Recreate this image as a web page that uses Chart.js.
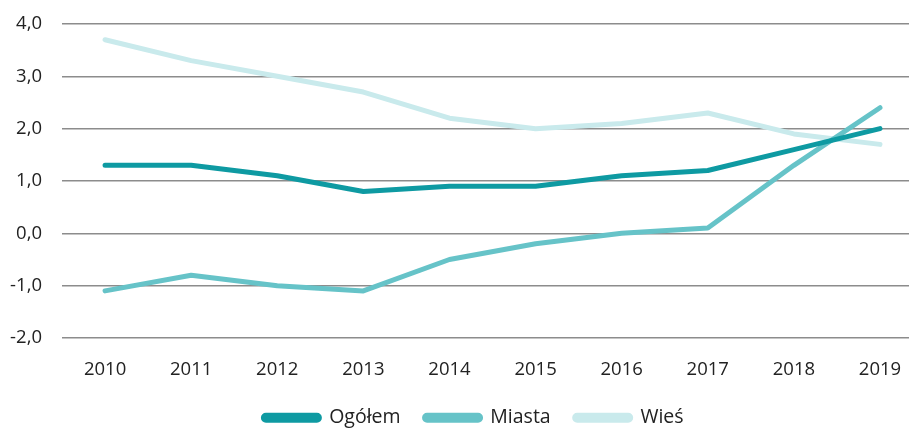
<!DOCTYPE html>
<html>
<head>
<meta charset="utf-8">
<script src="https://cdn.jsdelivr.net/npm/chart.js@4"></script>
<style>
  html, body { margin: 0; padding: 0; background: #fff; overflow: hidden; }
</style>
</head>
<body>
<canvas id="wykres" width="909" height="428"></canvas>
<script>
const LATA = [2010, 2011, 2012, 2013, 2014, 2015, 2016, 2017, 2018, 2019];
const OGOLEM = [1.3, 1.3, 1.1, 0.8, 0.9, 0.9, 1.1, 1.2, 1.6, 2.0];
const MIASTA = [-1.1, -0.8, -1.0, -1.1, -0.5, -0.2, 0.0, 0.1, 1.3, 2.4];
const WIES = [3.7, 3.3, 3.0, 2.7, 2.2, 2.0, 2.1, 2.3, 1.9, 1.7];

function seria(label, vals, color) {
  return {
    label: label,
    data: LATA.map((r, i) => ({ x: r, y: vals[i] })),
    borderColor: color,
    backgroundColor: color,
    borderWidth: 5,
    borderCapStyle: "round",
    borderJoinStyle: "round",
    pointRadius: 0,
    tension: 0,
  };
}

function frmt(v) {
  return v.toFixed(1).replace(".", ",");
}

// legenda przy samym dole i troche w prawo (jak w oryginale)
const wysLegendy = {
  id: "wysLegendy",
  beforeInit(chart) {
    const fit = chart.legend.fit;
    chart.legend.fit = function () {
      fit.call(this);
      this.height = 44;
    };
  },
  afterLayout(chart) {
    chart.legend.left += 19;
    chart.legend.right += 19;
  },
};

const ctx = document.getElementById("wykres");
new Chart(ctx, {
  type: "line",
  data: {
    datasets: [
      seria("Ogółem", OGOLEM, "#0e9aa2"),
      seria("Miasta", MIASTA, "#66c3c8"),
      seria("Wieś", WIES, "#c9eaec"),
    ],
  },
  options: {
    responsive: false,
    animation: false,
    layout: { padding: { top: 24, right: 0, bottom: 0, left: 0 } },
    scales: {
      x: {
        type: "linear",
        min: 2009.5,
        max: 2019.337,
        afterBuildTicks: (scale) => {
          scale.ticks = LATA.map((v) => ({ value: v }));
        },
        afterFit: (scale) => {
          scale.height = 46;
          scale.paddingLeft = 0;
          scale.paddingRight = 0;
        },
        grid: { display: false },
        border: { display: false },
        ticks: {
          padding: 13,
          color: "#222",
          font: { family: "Open Sans", size: 18.5 },
          callback: (v) => String(v),
        },
      },
      y: {
        min: -2,
        max: 4,
        afterFit: (scale) => {
          scale.width = 62;
          scale.paddingTop = 0;
          scale.paddingBottom = 0;
        },
        ticks: {
          stepSize: 1,
          padding: 20,
          color: "#222",
          font: { family: "Open Sans", size: 18.5 },
          callback: (v) => frmt(v),
        },
        grid: { color: "#8c8c8c", lineWidth: 1.5, drawTicks: false },
        border: { display: false },
      },
    },
    plugins: {
      tooltip: { enabled: false },
      legend: {
        position: "bottom",
        labels: {
          boxWidth: 56,
          boxHeight: 5,
          useBorderRadius: true,
          borderRadius: 2.5,
          padding: 24,
          color: "#222",
          font: { family: "Open Sans", size: 19.5 },
        },
      },
    },
  },
  plugins: [wysLegendy],
});
</script>
</body>
</html>
